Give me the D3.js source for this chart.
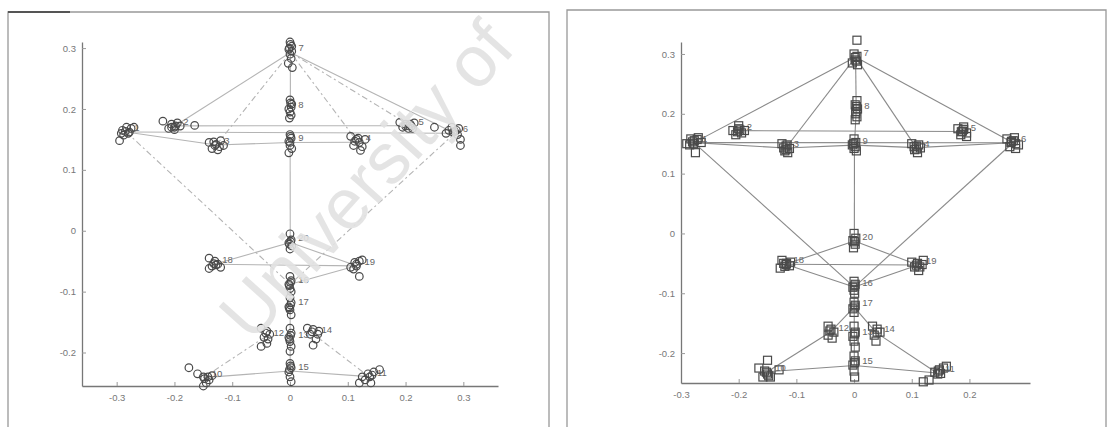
<!DOCTYPE html>
<html><head><meta charset="utf-8">
<script src="https://cdn.jsdelivr.net/npm/d3@7"></script>
<style>body{margin:0;background:#fff}svg{display:block}</style>
</head><body>
<svg id="c" width="1108" height="427"></svg>
<script>
const landmarkIds = ["1","2","3","4","5","6","7","8","9","20","18","19","16","17","12","13","14","15","10","11"];

const leftPoints = {
  "1": [[-0.29,0.165],[-0.283,0.17],[-0.275,0.168],[-0.288,0.157],[-0.295,0.148],[-0.28,0.16],[-0.27,0.17],[-0.285,0.163],[-0.278,0.162],[-0.292,0.16]],
  "2": [[-0.22,0.18],[-0.205,0.175],[-0.2,0.17],[-0.21,0.168],[-0.195,0.177],[-0.19,0.172],[-0.165,0.173],[-0.2,0.166],[-0.198,0.172],[-0.205,0.17]],
  "3": [[-0.14,0.145],[-0.13,0.14],[-0.12,0.148],[-0.135,0.135],[-0.125,0.133],[-0.115,0.14],[-0.128,0.142],[-0.132,0.146],[-0.122,0.138]],
  "4": [[0.105,0.155],[0.115,0.15],[0.12,0.145],[0.11,0.14],[0.125,0.138],[0.13,0.15],[0.112,0.147],[0.118,0.152],[0.122,0.132]],
  "5": [[0.19,0.178],[0.2,0.175],[0.21,0.172],[0.195,0.17],[0.215,0.177],[0.205,0.168],[0.25,0.17],[0.2,0.172],[0.208,0.175],[0.212,0.168]],
  "6": [[0.275,0.165],[0.285,0.163],[0.29,0.158],[0.28,0.17],[0.295,0.15],[0.292,0.168],[0.27,0.16],[0.282,0.162],[0.288,0.165],[0.295,0.14]],
  "7": [[0,0.31],[0.003,0.303],[-0.002,0.298],[0,0.29],[0.002,0.283],[-0.003,0.275],[0.004,0.268],[0.001,0.306],[-0.001,0.3],[0.003,0.295]],
  "8": [[0,0.215],[0.003,0.208],[-0.002,0.2],[0,0.195],[0.002,0.19],[-0.001,0.185],[0.001,0.21],[0.002,0.203]],
  "9": [[0,0.158],[0.002,0.152],[-0.002,0.147],[0,0.14],[0.003,0.135],[-0.002,0.128],[0.001,0.155],[0,0.145]],
  "20": [[0,-0.005],[0.002,-0.015],[-0.002,-0.02],[0.003,-0.025],[0,-0.03],[0.001,-0.018],[-0.001,-0.022]],
  "18": [[-0.14,-0.045],[-0.13,-0.05],[-0.125,-0.055],[-0.135,-0.058],[-0.14,-0.062],[-0.12,-0.06],[-0.128,-0.056],[-0.132,-0.054]],
  "19": [[0.105,-0.06],[0.115,-0.055],[0.12,-0.05],[0.125,-0.048],[0.11,-0.063],[0.12,-0.075],[0.115,-0.058],[0.112,-0.052]],
  "16": [[0,-0.075],[0.002,-0.082],[-0.002,-0.088],[0,-0.095],[0.002,-0.1],[0.001,-0.085],[-0.001,-0.09]],
  "17": [[0,-0.11],[0.002,-0.118],[-0.002,-0.125],[0,-0.13],[0.002,-0.138],[0.001,-0.122],[-0.001,-0.127]],
  "12": [[-0.05,-0.16],[-0.04,-0.165],[-0.035,-0.17],[-0.045,-0.175],[-0.04,-0.185],[-0.05,-0.19],[-0.042,-0.168],[-0.038,-0.178]],
  "13": [[0,-0.16],[0.002,-0.168],[-0.002,-0.175],[0,-0.182],[0.002,-0.19],[0,-0.198],[0.001,-0.172],[-0.001,-0.178]],
  "14": [[0.03,-0.16],[0.04,-0.162],[0.05,-0.165],[0.035,-0.17],[0.045,-0.178],[0.04,-0.188],[0.038,-0.166],[0.048,-0.17]],
  "15": [[0,-0.218],[0.002,-0.225],[-0.002,-0.232],[0,-0.24],[0.002,-0.248],[0.001,-0.222],[-0.001,-0.228]],
  "10": [[-0.175,-0.225],[-0.16,-0.235],[-0.15,-0.24],[-0.14,-0.245],[-0.145,-0.25],[-0.135,-0.238],[-0.15,-0.255],[-0.148,-0.243],[-0.142,-0.24]],
  "11": [[0.125,-0.24],[0.135,-0.235],[0.145,-0.232],[0.155,-0.228],[0.13,-0.245],[0.14,-0.25],[0.12,-0.25],[0.138,-0.24],[0.142,-0.237]]
};

const rightPoints = {
  "1": [[-0.29,0.15],[-0.283,0.158],[-0.277,0.155],[-0.27,0.16],[-0.285,0.148],[-0.275,0.135],[-0.265,0.152],[-0.28,0.153],[-0.272,0.157],[-0.278,0.15]],
  "2": [[-0.21,0.172],[-0.2,0.175],[-0.195,0.168],[-0.205,0.165],[-0.19,0.172],[-0.2,0.18],[-0.202,0.17],[-0.198,0.173]],
  "3": [[-0.125,0.15],[-0.118,0.146],[-0.112,0.142],[-0.12,0.138],[-0.115,0.135],[-0.122,0.143],[-0.118,0.14],[-0.116,0.148]],
  "4": [[0.1,0.15],[0.108,0.146],[0.115,0.143],[0.105,0.14],[0.11,0.135],[0.112,0.148],[0.108,0.141],[0.104,0.145]],
  "5": [[0.18,0.175],[0.188,0.171],[0.195,0.168],[0.185,0.165],[0.19,0.178],[0.195,0.162],[0.186,0.17],[0.19,0.174]],
  "6": [[0.265,0.158],[0.273,0.154],[0.28,0.15],[0.27,0.145],[0.278,0.16],[0.285,0.148],[0.272,0.152],[0.276,0.155],[0.28,0.142]],
  "7": [[0.005,0.323],[0,0.3],[0.005,0.296],[0.002,0.29],[-0.003,0.285],[0.006,0.282],[0.002,0.294],[0.004,0.288]],
  "8": [[0.005,0.222],[0.002,0.215],[0.006,0.208],[0.003,0.2],[0.005,0.195],[0.002,0.19],[0.004,0.212],[0.003,0.204]],
  "9": [[0,0.158],[0.003,0.152],[-0.003,0.148],[0,0.142],[0.004,0.138],[0.002,0.145],[-0.001,0.15]],
  "20": [[0,0],[0.003,-0.008],[-0.002,-0.012],[0.002,-0.018],[-0.001,-0.024],[0.001,-0.014]],
  "18": [[-0.125,-0.045],[-0.117,-0.05],[-0.11,-0.048],[-0.12,-0.055],[-0.128,-0.058],[-0.112,-0.054],[-0.118,-0.052],[-0.122,-0.05]],
  "19": [[0.1,-0.048],[0.11,-0.05],[0.118,-0.052],[0.105,-0.056],[0.112,-0.062],[0.12,-0.045],[0.108,-0.053],[0.114,-0.056]],
  "16": [[0,-0.08],[0.002,-0.085],[-0.002,-0.09],[0,-0.095],[0.001,-0.1],[0.001,-0.088]],
  "17": [[0,-0.115],[0.002,-0.12],[-0.002,-0.126],[0,-0.132],[0.001,-0.123]],
  "12": [[-0.045,-0.155],[-0.04,-0.16],[-0.035,-0.165],[-0.045,-0.17],[-0.038,-0.175],[-0.042,-0.163]],
  "13": [[0,-0.155],[0.002,-0.165],[-0.002,-0.172],[0,-0.18],[0.002,-0.19],[0.001,-0.168]],
  "14": [[0.032,-0.155],[0.04,-0.16],[0.045,-0.165],[0.035,-0.17],[0.038,-0.18],[0.04,-0.165]],
  "15": [[0,-0.205],[0.002,-0.213],[-0.002,-0.22],[0,-0.23],[0.001,-0.24],[0.001,-0.216]],
  "10": [[-0.165,-0.225],[-0.155,-0.23],[-0.15,-0.235],[-0.145,-0.24],[-0.158,-0.24],[-0.15,-0.212],[-0.13,-0.228],[-0.152,-0.232],[-0.148,-0.238]],
  "11": [[0.14,-0.232],[0.148,-0.228],[0.155,-0.225],[0.145,-0.235],[0.16,-0.222],[0.13,-0.245],[0.12,-0.248],[0.146,-0.23],[0.15,-0.234]]
};

const leftEdges = [["7","2",0],["7","3",1],["7","8",0],["7","4",1],["7","5",1],["7","6",0],
  ["2","5",0],["1","6",0],["3","9",0],["9","4",0],["1","3",0],["9","20",0],
  ["1","16",1],["6","16",1],["20","18",0],["20","19",0],["18","19",0],["16","19",0],
  ["16","17",0],["17","13",0],["13","15",0],["12","10",1],["14","11",1],["15","10",0],["15","11",0]];

const rightEdges = [["7","1",0],["7","3",0],["7","8",0],["8","9",0],["7","4",0],["7","6",0],
  ["1","6",0],["2","5",0],["1","3",0],["3","9",0],["9","4",0],["4","6",0],["9","20",0],
  ["1","16",0],["6","16",0],["20","18",0],["20","19",0],["18","19",0],["18","16",0],["19","16",0],
  ["16","17",0],["17","13",0],["13","15",0],["17","12",0],["17","14",0],["12","10",0],["14","11",0],
  ["15","10",0],["15","11",0]];

const leftXTicks = [-0.3,-0.2,-0.1,0,0.1,0.2,0.3];
const leftYTicks = [-0.2,-0.1,0,0.1,0.2,0.3];
const rightXTicks = [-0.3,-0.2,-0.1,0,0.1,0.2];
const rightYTicks = [-0.2,-0.1,0,0.1,0.2,0.3];

// ---- drawing ----
const svg = d3.select("#c");
const fmt = d => d === 0 ? "0" : d3.format(".1f")(d).replace("\u2212","-");

svg.append("path").attr("d","M8,427V12H549V427").attr("fill","none").attr("stroke","#999").attr("stroke-width",1.3);
svg.append("path").attr("d","M8,12H70").attr("stroke","#555").attr("stroke-width",2);
svg.append("path").attr("d","M567,427V10H1106V427").attr("fill","none").attr("stroke","#999").attr("stroke-width",1.3);

function panel(cfg){
  const g = svg.append("g");
  const x = d3.scaleLinear().domain(cfg.xd).range(cfg.xr);
  const y = d3.scaleLinear().domain(cfg.yd).range(cfg.yr);
  const means = {};
  for (const k of landmarkIds){
    const pts = cfg.points[k];
    means[k] = [d3.mean(pts,p=>p[0]), d3.mean(pts,p=>p[1])];
  }
  const ax = g.append("g").attr("transform",`translate(0,${cfg.yr[0]})`)
    .call(d3.axisBottom(x).tickValues(cfg.xt).tickFormat(fmt).tickSize(-4).tickPadding(8).tickSizeOuter(0));
  const ay = g.append("g").attr("transform",`translate(${cfg.xr[0]},0)`)
    .call(d3.axisLeft(y).tickValues(cfg.yt).tickFormat(fmt).tickSize(-4).tickPadding(6).tickSizeOuter(0));
  [ax,ay].forEach(a=>{
    a.select(".domain").attr("stroke","#777").attr("stroke-width",1.3);
    a.selectAll(".tick line").attr("stroke","#999");
    a.selectAll("text").attr("fill","#777").attr("font-size",9.5).attr("font-family","Liberation Sans, Arial, sans-serif");
  });
  g.append("g").selectAll("line").data(cfg.edges).join("line")
    .attr("x1",e=>x(means[e[0]][0])).attr("y1",e=>y(means[e[0]][1]))
    .attr("x2",e=>x(means[e[1]][0])).attr("y2",e=>y(means[e[1]][1]))
    .attr("stroke",cfg.lineColor).attr("stroke-width",1.1)
    .attr("stroke-dasharray",e=>e[2]?"6,3,2,3":null);
  const all = [];
  for (const k of landmarkIds) for (const p of cfg.points[k]) all.push(p);
  const mg = g.append("g").attr("fill","none").attr("stroke",cfg.markColor).attr("stroke-width",1.2);
  if (cfg.shape==="circle"){
    mg.selectAll("circle").data(all).join("circle")
      .attr("cx",p=>x(p[0])).attr("cy",p=>y(p[1])).attr("r",3.8);
  } else {
    mg.selectAll("rect").data(all).join("rect")
      .attr("x",p=>x(p[0])-4).attr("y",p=>y(p[1])-4).attr("width",8).attr("height",8);
  }
  g.append("g").selectAll("text").data(landmarkIds).join("text")
    .attr("x",k=>x(means[k][0])+8).attr("y",k=>y(means[k][1])-1)
    .attr("fill","#666").attr("font-size",9.5).attr("font-family","Liberation Sans, Arial, sans-serif")
    .text(k=>k);
}

panel({xd:[-0.36,0.36], xr:[82,498], yd:[-0.255,0.31], yr:[386,42],
  xt:leftXTicks, yt:leftYTicks, points:leftPoints, edges:leftEdges,
  shape:"circle", lineColor:"#b4b4b4", markColor:"#4a4a4a"});
panel({xd:[-0.3,0.305], xr:[681,1030], yd:[-0.25,0.32], yr:[383,42],
  xt:rightXTicks, yt:rightYTicks, points:rightPoints, edges:rightEdges,
  shape:"square", lineColor:"#8a8a8a", markColor:"#4a4a4a"});

// scan watermark
svg.append("text").attr("transform","translate(252,344) rotate(-48)")
  .attr("font-family","Liberation Sans, Arial, sans-serif").attr("font-size",72)
  .attr("fill","#e2e2e2").attr("opacity",0.9).text("University of");
</script>
</body></html>
